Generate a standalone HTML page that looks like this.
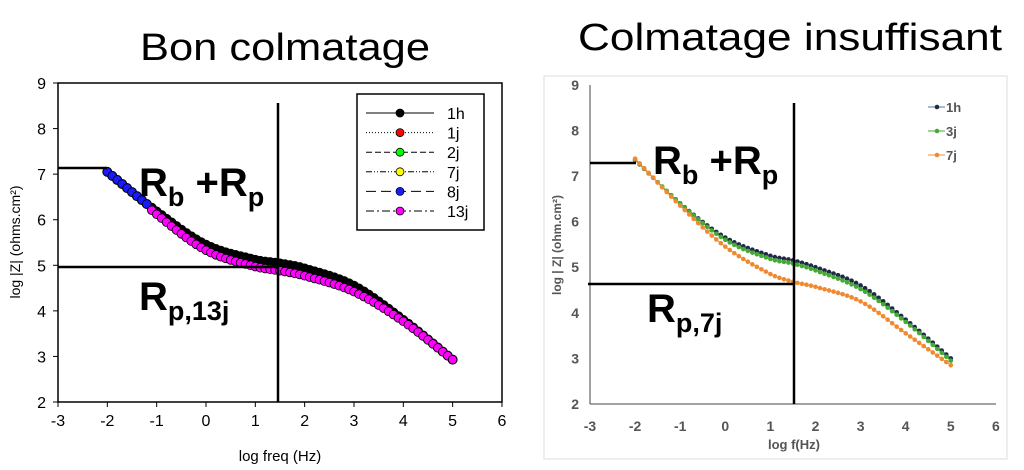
<!DOCTYPE html>
<html><head><meta charset="utf-8"><style>
html,body{margin:0;padding:0;background:#fff;}
svg{display:block;font-family:"Liberation Sans",sans-serif;}
</style></head><body>
<svg id="s" width="1024" height="470" viewBox="0 0 1024 470" xmlns="http://www.w3.org/2000/svg">
<text x="140" y="60" font-size="38" textLength="290" lengthAdjust="spacingAndGlyphs">Bon colmatage</text>
<text x="578" y="50" font-size="38" textLength="424" lengthAdjust="spacingAndGlyphs">Colmatage insuffisant</text>
<!-- left chart -->
<rect x="58" y="83" width="444" height="319" fill="none" stroke="#000" stroke-width="1.5"/>
<g id="L"></g>
<line x1="278" y1="103" x2="278" y2="402" stroke="#000" stroke-width="2.5"/>
<line x1="58" y1="168" x2="107" y2="168" stroke="#000" stroke-width="2.5"/>
<line x1="58" y1="267" x2="278" y2="267" stroke="#000" stroke-width="2.5"/>
<text x="139" y="196" font-size="40" font-weight="bold">R<tspan font-size="27" dy="10">b</tspan><tspan dy="-10"> +R</tspan><tspan font-size="27" dy="10">p</tspan></text>
<text x="139" y="310" font-size="40" font-weight="bold">R<tspan font-size="27" dy="10">p,13j</tspan></text>
<rect x="357" y="94" width="127" height="136" fill="#fff" stroke="#000" stroke-width="1.5"/>
<g id="LL"></g>
<text transform="translate(20,242) rotate(-90)" font-size="14" text-anchor="middle">log |Z| (ohms.cm²)</text>
<text x="280" y="461" font-size="15" text-anchor="middle">log freq (Hz)</text>
<!-- right chart -->
<rect x="544" y="76" width="463" height="383" fill="none" stroke="#ddd" stroke-width="1"/>
<line x1="590" y1="85" x2="590" y2="404" stroke="#444" stroke-width="1"/>
<line x1="590" y1="404" x2="996" y2="404" stroke="#444" stroke-width="1"/>
<g id="R"></g>
<line x1="794" y1="103" x2="794" y2="404" stroke="#000" stroke-width="2.5"/>
<line x1="590" y1="163" x2="636" y2="163" stroke="#000" stroke-width="2.5"/>
<line x1="588" y1="284" x2="794" y2="284" stroke="#000" stroke-width="2.5"/>
<text x="653" y="174" font-size="40" font-weight="bold">R<tspan font-size="27" dy="10">b</tspan><tspan dy="-10"> +R</tspan><tspan font-size="27" dy="10">p</tspan></text>
<text x="647" y="322" font-size="40" font-weight="bold">R<tspan font-size="27" dy="10">p,7j</tspan></text>
<g id="RL" font-size="13" font-weight="bold" fill="#555"></g>
<text transform="translate(561,245) rotate(-90)" font-size="12" font-weight="bold" fill="#555" text-anchor="middle">log | Z| (ohm.cm²)</text>
<text x="794" y="449" font-size="13" font-weight="bold" fill="#555" text-anchor="middle">log f(Hz)</text>
</svg>
<script>
var NS="http://www.w3.org/2000/svg",s=document.getElementById('s');
function el(p,t,a,txt){var e=document.createElementNS(NS,t);for(var k in a)e.setAttribute(k,a[k]);if(txt!=null)e.textContent=txt;p.appendChild(e);return e;}
function interp(kn,x){for(var i=0;i<kn.length-1;i++){if(x<=kn[i+1][0]+1e-9){var a=kn[i],b=kn[i+1],t=(x-a[0])/(b[0]-a[0]);
var m0=i>0?(b[1]-kn[i-1][1])/(b[0]-kn[i-1][0]):(b[1]-a[1])/(b[0]-a[0]);var c=kn[i+2]||b;var m1=i+2<kn.length?(c[1]-a[1])/(c[0]-a[0]):(b[1]-a[1])/(b[0]-a[0]);var h=b[0]-a[0];
var t2=t*t,t3=t2*t;return (2*t3-3*t2+1)*a[1]+(t3-2*t2+t)*h*m0+(-2*t3+3*t2)*b[1]+(t3-t2)*h*m1;}}return kn[kn.length-1][1];}
var LX=function(v){return 58+(v+3)*49.33},LY=function(v){return 402-(v-2)*45.57};
var L=document.getElementById('L');
var k1=[[-2,7.05],[-1,6.18],[0,5.45],[1,5.12],[1.5,5.04],[2,4.93],[3,4.55],[4,3.8],[5,2.93]];
var k13=[[-2,7.05],[-1,6.12],[0,5.33],[1,4.97],[1.5,4.88],[2,4.77],[3,4.42],[4,3.77],[5,2.93]];
var p="";for(var x=-2;x<=5.001;x+=0.1){var y=interp(k1,x);p+=(p?"L":"M")+LX(x).toFixed(1)+","+LY(y).toFixed(1);}
el(L,'path',{d:p,fill:'none',stroke:'#000','stroke-width':1});
for(var x=-2;x<=5.001;x+=0.1){el(L,'circle',{cx:LX(x),cy:LY(interp(k1,x)),r:4.5,fill:'#000',stroke:'#000'});}
for(var x=-2;x<=5.001;x+=0.1){var c=x<-1.15?'#1a1aff':'#ff00ff';var kk=x<-1.15?k1:k13;el(L,'circle',{cx:LX(x),cy:LY(interp(kk,x)),r:4.3,fill:c,stroke:'#000','stroke-width':0.8});}
for(var i=-3;i<=6;i++){el(s,'line',{x1:LX(i),y1:402,x2:LX(i),y2:407,stroke:'#000'});el(s,'text',{x:LX(i),y:426,'font-size':16,'text-anchor':'middle'},i);}
for(var i=2;i<=9;i++){el(s,'line',{x1:53,y1:LY(i),x2:58,y2:LY(i),stroke:'#000'});el(s,'text',{x:46,y:LY(i)+6,'font-size':16,'text-anchor':'end'},i);}
var LL=document.getElementById('LL');var labs=['1h','1j','2j','7j','8j','13j'],cols=['#000','#f00','#0f0','#ff0','#1a1aff','#ff00ff'],dash=['','1,2','6,3','6,2,1,2,1,2','10,5','8,3,2,3'];
for(var i=0;i<6;i++){var y=113+i*19.6;el(LL,'line',{x1:366,y1:y,x2:434,y2:y,stroke:'#000','stroke-width':1,'stroke-dasharray':dash[i]});el(LL,'circle',{cx:400,cy:y,r:4,fill:cols[i],stroke:'#000','stroke-width':0.8});el(LL,'text',{x:447,y:y+6,'font-size':16},labs[i]);}
var RX=function(v){return 590+(v+3)*45.1},RY=function(v){return 404-(v-2)*45.6};
var R=document.getElementById('R');
var r1=[[-2,7.35],[-1,6.4],[0,5.65],[1,5.25],[1.5,5.15],[2,5.0],[3,4.6],[4,3.85],[5,3.0]];
var r3=[[-2,7.35],[-1,6.4],[0,5.6],[1,5.18],[1.5,5.08],[2,4.93],[3,4.52],[4,3.8],[5,2.95]];
var r7=[[-2,7.38],[-1,6.35],[0,5.45],[1,4.85],[1.5,4.68],[2,4.57],[3,4.25],[4,3.55],[5,2.85]];
[[r1,'#1f2a44','#4a7ca0'],[r3,'#44aa33','#44aa33'],[r7,'#f08a30','#f08a30']].forEach(function(d){var p="";for(var x=-2;x<=5.001;x+=0.1){p+=(p?"L":"M")+RX(x).toFixed(1)+","+RY(interp(d[0],x)).toFixed(1);}
el(R,'path',{d:p,fill:'none',stroke:d[2],'stroke-width':1});for(var x=-2;x<=5.001;x+=0.1){el(R,'circle',{cx:RX(x),cy:RY(interp(d[0],x)),r:2.3,fill:d[1]});}});
for(var i=-3;i<=6;i++){el(s,'text',{x:RX(i),y:431,'font-size':14,'font-weight':'bold',fill:'#555','text-anchor':'middle'},i);}
for(var i=2;i<=9;i++){el(s,'text',{x:579,y:RY(i)+5,'font-size':14,'font-weight':'bold',fill:'#555','text-anchor':'end'},i);}
var RL=document.getElementById('RL');[['1h','#1f2a44','#4a7ca0'],['3j','#44aa33','#44aa33'],['7j','#f08a30','#f08a30']].forEach(function(d,i){var y=107+i*24;el(RL,'line',{x1:928,y1:y,x2:945,y2:y,stroke:d[2]});el(RL,'circle',{cx:937,cy:y,r:2.3,fill:d[1]});el(RL,'text',{x:946,y:y+5},d[0]);});
</script>
</body></html>
